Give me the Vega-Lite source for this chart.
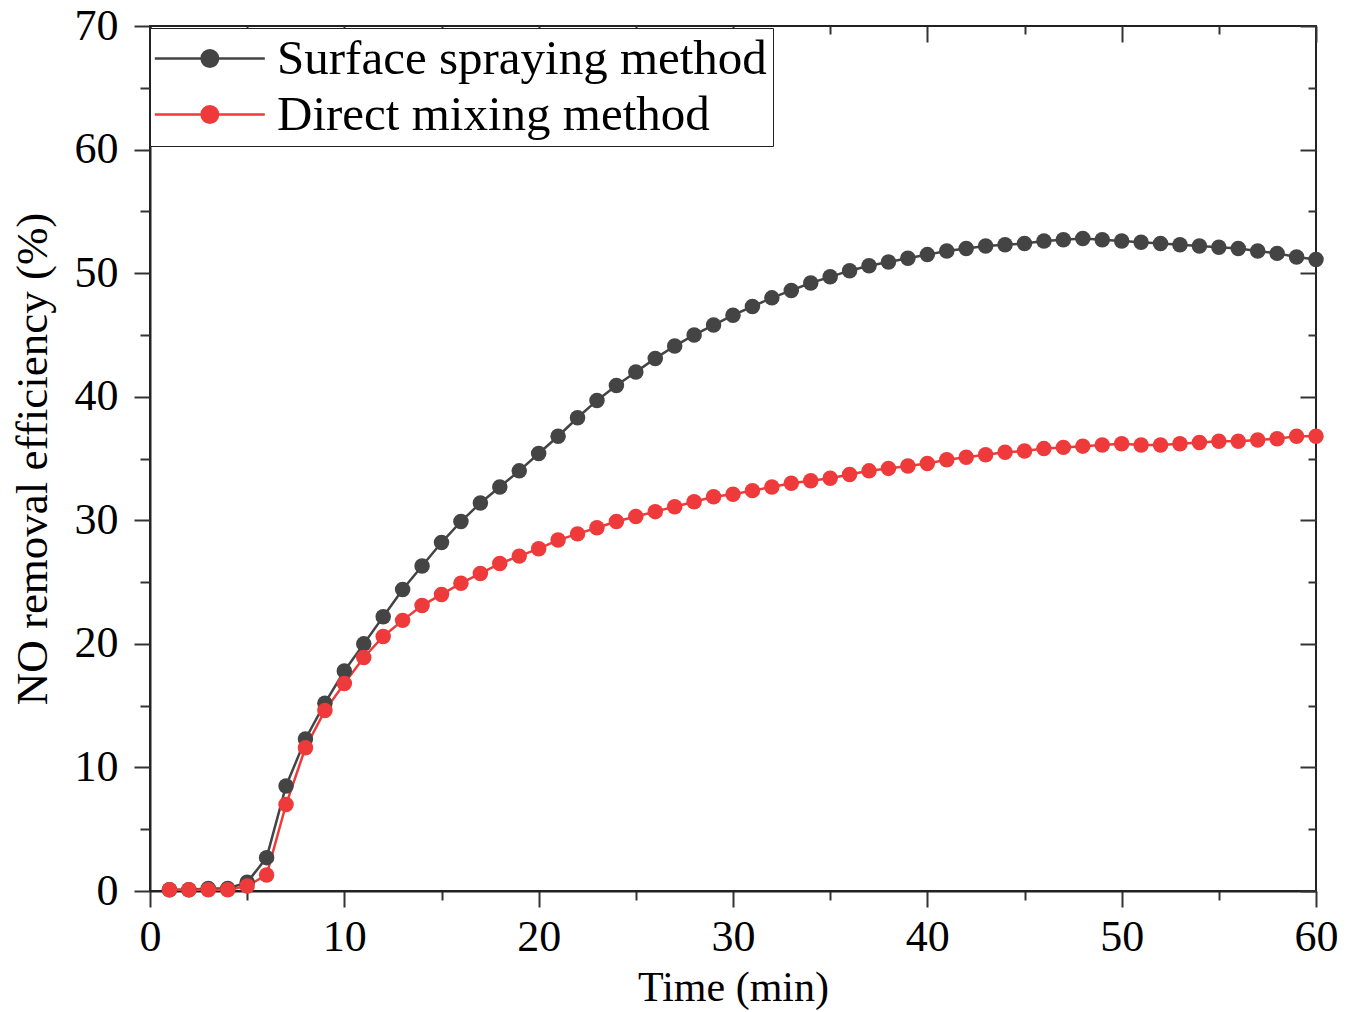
{
  "$schema": "https://vega.github.io/schema/vega-lite/v6.json",
  "autosize": "none",
  "width": 1166,
  "height": 865,
  "padding": {"left": 150, "top": 26, "right": 41, "bottom": 121},
  "background": "white",
  "config": {
    "view": {"stroke": "#222", "strokeWidth": 2},
    "font": "Liberation Serif",
    "axis": {"labelFont": "Liberation Serif", "titleFont": "Liberation Serif", "labelColor": "black", "titleColor": "black", "domainColor": "#222", "domainWidth": 2, "tickColor": "#333", "tickWidth": 2, "grid": false, "titleFontWeight": "normal", "labelFlush": false, "labelOverlap": false}
  },
  "data": {"values": [
    {"t":1,"Surface spraying method":0.1,"Direct mixing method":0.1},
    {"t":2,"Surface spraying method":0.1,"Direct mixing method":0.1},
    {"t":3,"Surface spraying method":0.2,"Direct mixing method":0.1},
    {"t":4,"Surface spraying method":0.2,"Direct mixing method":0.1},
    {"t":5,"Surface spraying method":0.7,"Direct mixing method":0.4},
    {"t":6,"Surface spraying method":2.7,"Direct mixing method":1.3},
    {"t":7,"Surface spraying method":8.5,"Direct mixing method":7.0},
    {"t":8,"Surface spraying method":12.3,"Direct mixing method":11.6},
    {"t":9,"Surface spraying method":15.2,"Direct mixing method":14.6},
    {"t":10,"Surface spraying method":17.8,"Direct mixing method":16.8},
    {"t":11,"Surface spraying method":20.0,"Direct mixing method":18.9},
    {"t":12,"Surface spraying method":22.2,"Direct mixing method":20.6},
    {"t":13,"Surface spraying method":24.4,"Direct mixing method":21.9},
    {"t":14,"Surface spraying method":26.3,"Direct mixing method":23.1},
    {"t":15,"Surface spraying method":28.2,"Direct mixing method":24.0},
    {"t":16,"Surface spraying method":29.9,"Direct mixing method":24.9},
    {"t":17,"Surface spraying method":31.4,"Direct mixing method":25.7},
    {"t":18,"Surface spraying method":32.7,"Direct mixing method":26.5},
    {"t":19,"Surface spraying method":34.0,"Direct mixing method":27.1},
    {"t":20,"Surface spraying method":35.4,"Direct mixing method":27.7},
    {"t":21,"Surface spraying method":36.8,"Direct mixing method":28.4},
    {"t":22,"Surface spraying method":38.3,"Direct mixing method":28.9},
    {"t":23,"Surface spraying method":39.7,"Direct mixing method":29.4},
    {"t":24,"Surface spraying method":40.9,"Direct mixing method":29.9},
    {"t":25,"Surface spraying method":42.0,"Direct mixing method":30.3},
    {"t":26,"Surface spraying method":43.1,"Direct mixing method":30.7},
    {"t":27,"Surface spraying method":44.1,"Direct mixing method":31.1},
    {"t":28,"Surface spraying method":45.0,"Direct mixing method":31.5},
    {"t":29,"Surface spraying method":45.8,"Direct mixing method":31.9},
    {"t":30,"Surface spraying method":46.6,"Direct mixing method":32.1},
    {"t":31,"Surface spraying method":47.3,"Direct mixing method":32.4},
    {"t":32,"Surface spraying method":48.0,"Direct mixing method":32.7},
    {"t":33,"Surface spraying method":48.6,"Direct mixing method":33.0},
    {"t":34,"Surface spraying method":49.2,"Direct mixing method":33.2},
    {"t":35,"Surface spraying method":49.7,"Direct mixing method":33.4},
    {"t":36,"Surface spraying method":50.2,"Direct mixing method":33.7},
    {"t":37,"Surface spraying method":50.6,"Direct mixing method":34.0},
    {"t":38,"Surface spraying method":50.9,"Direct mixing method":34.2},
    {"t":39,"Surface spraying method":51.2,"Direct mixing method":34.4},
    {"t":40,"Surface spraying method":51.5,"Direct mixing method":34.6},
    {"t":41,"Surface spraying method":51.8,"Direct mixing method":34.9},
    {"t":42,"Surface spraying method":52.0,"Direct mixing method":35.1},
    {"t":43,"Surface spraying method":52.2,"Direct mixing method":35.3},
    {"t":44,"Surface spraying method":52.3,"Direct mixing method":35.5},
    {"t":45,"Surface spraying method":52.4,"Direct mixing method":35.6},
    {"t":46,"Surface spraying method":52.6,"Direct mixing method":35.8},
    {"t":47,"Surface spraying method":52.7,"Direct mixing method":35.9},
    {"t":48,"Surface spraying method":52.8,"Direct mixing method":36.0},
    {"t":49,"Surface spraying method":52.7,"Direct mixing method":36.1},
    {"t":50,"Surface spraying method":52.6,"Direct mixing method":36.2},
    {"t":51,"Surface spraying method":52.5,"Direct mixing method":36.1},
    {"t":52,"Surface spraying method":52.4,"Direct mixing method":36.1},
    {"t":53,"Surface spraying method":52.3,"Direct mixing method":36.2},
    {"t":54,"Surface spraying method":52.2,"Direct mixing method":36.3},
    {"t":55,"Surface spraying method":52.1,"Direct mixing method":36.4},
    {"t":56,"Surface spraying method":52.0,"Direct mixing method":36.4},
    {"t":57,"Surface spraying method":51.8,"Direct mixing method":36.5},
    {"t":58,"Surface spraying method":51.6,"Direct mixing method":36.6},
    {"t":59,"Surface spraying method":51.3,"Direct mixing method":36.8},
    {"t":60,"Surface spraying method":51.1,"Direct mixing method":36.8}
  ]},
  "transform": [{"fold": ["Surface spraying method", "Direct mixing method"], "as": ["method", "value"]}],
  "layer": [
    {
      "mark": {"type": "line", "strokeWidth": 2.5},
      "encoding": {
        "x": {"field": "t", "type": "quantitative", "scale": {"domain": [0, 60], "nice": false, "zero": false},
          "axis": {"orient": "bottom", "title": "Time (min)", "titleFontSize": 42, "titlePadding": 8, "labelFontSize": 44, "labelPadding": 8,
            "values": [0,5,10,15,20,25,30,35,40,45,50,55,60],
            "labelExpr": "datum.value % 10 === 0 ? datum.label : ''",
            "tickSize": {"condition": {"test": "datum.value % 10 === 0", "value": 16}, "value": 9}}},
        "y": {"field": "value", "type": "quantitative", "scale": {"domain": [0, 70], "nice": false},
          "axis": {"orient": "left", "title": "NO removal efficiency (%)", "titleFontSize": 45, "titlePadding": 19, "labelFontSize": 44, "labelPadding": 16,
            "values": [0,5,10,15,20,25,30,35,40,45,50,55,60,65,70],
            "labelExpr": "datum.value % 10 === 0 ? datum.label : ''",
            "tickSize": {"condition": {"test": "datum.value % 10 === 0", "value": 16}, "value": 10}}},
        "color": {"field": "method", "type": "nominal",
          "scale": {"domain": ["Surface spraying method", "Direct mixing method"], "range": ["#444444", "#ee3a3a"]},
          "legend": {"orient": "none", "legendX": 0, "legendY": 2, "title": null,
            "symbolType": "M-1.4,0H4.6M1.15,0A0.45,0.45 0 1,1 2.05,0A0.45,0.45 0 1,1 1.15,0Z",
            "symbolSize": 1344, "symbolStrokeWidth": 2.5,
            "labelFont": "Liberation Serif", "labelFontSize": 49, "labelColor": "black", "labelOffset": 72, "labelLimit": 0,
            "strokeColor": "#222", "fillColor": "white", "padding": 6, "rowPadding": 6}},
        "order": {"field": "t", "type": "quantitative"}
      }
    },
    {
      "mark": {"type": "point", "filled": true, "size": 240, "opacity": 1},
      "encoding": {
        "x": {"field": "t", "type": "quantitative", "axis": null},
        "y": {"field": "value", "type": "quantitative", "axis": null},
        "color": {"field": "method", "type": "nominal"}
      }
    },
    {
      "mark": {"type": "point", "opacity": 0},
      "encoding": {
        "x": {"field": "t", "type": "quantitative",
          "axis": {"orient": "top", "title": null, "labels": false, "domain": false,
            "values": [0,5,10,15,20,25,30,35,40,45,50,55,60],
            "tickSize": {"condition": {"test": "datum.value % 10 === 0", "value": -16}, "value": -8}}},
        "y": {"field": "value", "type": "quantitative",
          "axis": {"orient": "right", "title": null, "labels": false, "domain": false,
            "values": [0,5,10,15,20,25,30,35,40,45,50,55,60,65,70],
            "tickSize": {"condition": {"test": "datum.value % 10 === 0", "value": -16}, "value": -8}}}
      }
    }
  ],
  "resolve": {"axis": {"x": "independent", "y": "independent"}}
}
